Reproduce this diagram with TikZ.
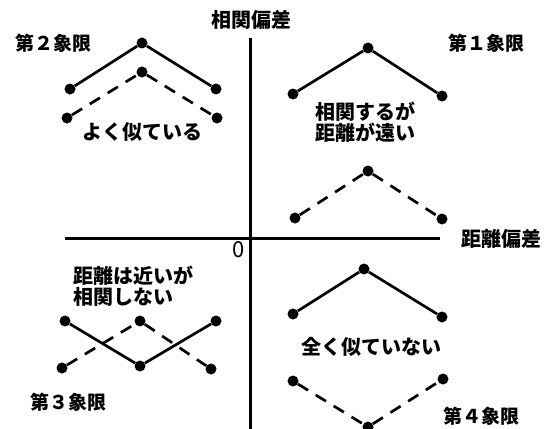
\documentclass[tikz,border=0pt]{standalone}
\usepackage{fontspec}
\setmainfont{Noto Sans CJK JP}
\usetikzlibrary{positioning}

\begin{document}
\begin{tikzpicture}[
    x=1pt, y=-1pt,
    dot/.style={circle, fill=black, inner sep=0pt, minimum size=11pt},
    solidline/.style={line width=2.7pt},
    dashedline/.style={line width=2.7pt, dash pattern=on 12pt off 9pt},
    axisline/.style={line width=3pt},
    jtext/.style={font={\bfseries\fontsize{20}{21}\selectfont}, inner sep=0pt, align=left},
    quadrant/.style={font={\bfseries\fontsize{19}{21}\selectfont}, inner sep=0pt}
  ]
  \useasboundingbox (0,0) rectangle (551,428);

  % axes
  \coordinate (ytop) at (250,38);
  \coordinate (ybot) at (250,432);
  \coordinate (xleft) at (65,238);
  \coordinate (xright) at (440,238);
  \draw[axisline] (ybot) -- (ytop);
  \draw[axisline] (xleft) -- (xright);
  \node[jtext] (ylabel) at (251,20) {相関偏差};
  \node[jtext] (xlabel) at (501,239) {距離偏差};
  \node[font={\fontsize{22}{22}\selectfont}, inner sep=0pt] (origin) at (239,250) {0};

  % quadrant 2
  \node[quadrant] (q2name) at (53,43) {第２象限};
  \node[dot] (q2a) at (70,89) {};
  \node[dot] (q2b) at (142,43) {};
  \node[dot] (q2c) at (216,89) {};
  \node[dot] (q2d) at (67,118) {};
  \node[dot] (q2e) at (142,72) {};
  \node[dot] (q2f) at (217,118) {};
  \draw[solidline] (q2a) -- (q2b) -- (q2c);
  \draw[dashedline] (q2d) -- (q2e) -- (q2f);
  \node[jtext] (q2text) at (142,132) {よく似ている};

  % quadrant 1
  \node[quadrant] (q1name) at (486,43) {第１象限};
  \node[dot] (q1a) at (293,94) {};
  \node[dot] (q1b) at (368,48) {};
  \node[dot] (q1c) at (442,96) {};
  \node[dot] (q1d) at (295,218) {};
  \node[dot] (q1e) at (368,171) {};
  \node[dot] (q1f) at (442,219) {};
  \draw[solidline] (q1a) -- (q1b) -- (q1c);
  \draw[dashedline] (q1d) -- (q1e) -- (q1f);
  \node[jtext, anchor=west] (q1text) at (315,122) {相関するが\\距離が遠い};

  % quadrant 3
  \node[quadrant] (q3name) at (68,402) {第３象限};
  \node[jtext, anchor=west] (q3text) at (73,286) {距離は近いが\\相関しない};
  \node[dot] (q3a) at (65,321) {};
  \node[dot] (q3b) at (140,366) {};
  \node[dot] (q3c) at (216,321) {};
  \node[dot] (q3d) at (62,368) {};
  \node[dot] (q3e) at (140,321) {};
  \node[dot] (q3f) at (211,369) {};
  \draw[solidline] (q3a) -- (q3b) -- (q3c);
  \draw[dashedline] (q3d) -- (q3e) -- (q3f);

  % quadrant 4
  \node[quadrant] (q4name) at (481,416) {第４象限};
  \node[dot] (q4a) at (293,314) {};
  \node[dot] (q4b) at (364,269) {};
  \node[dot] (q4c) at (442,317) {};
  \node[dot] (q4d) at (293,381) {};
  \node[dot] (q4e) at (368,427) {};
  \node[dot] (q4f) at (443,379) {};
  \draw[solidline] (q4a) -- (q4b) -- (q4c);
  \draw[dashedline] (q4d) -- (q4e) -- (q4f);
  \node[jtext] (q4text) at (371,347) {全く似ていない};
\end{tikzpicture}
\end{document}
